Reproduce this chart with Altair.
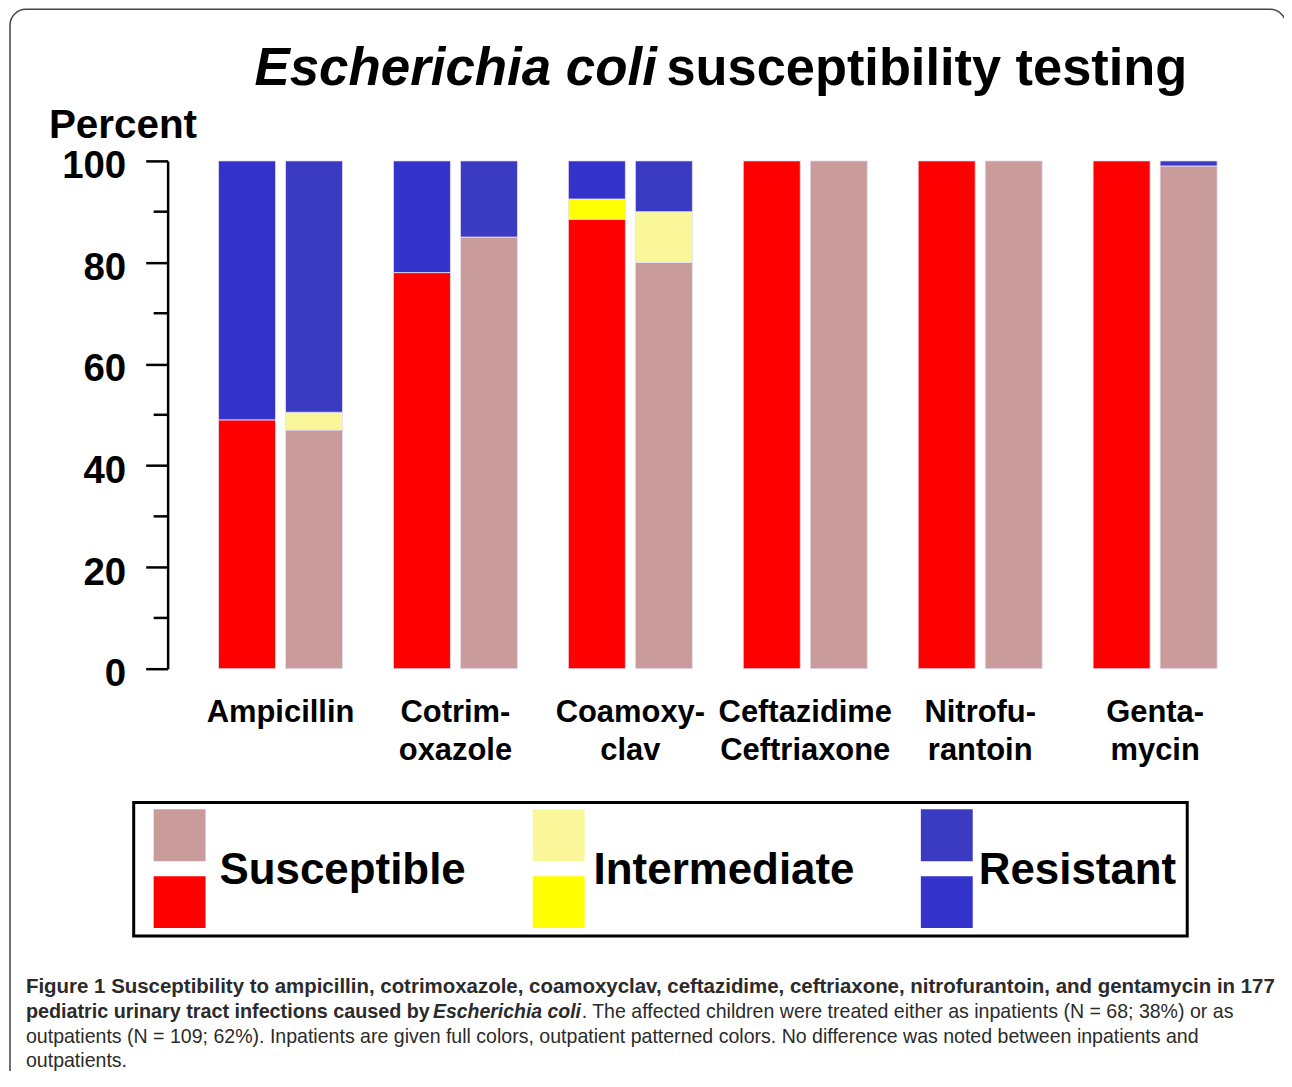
import altair as alt
import pandas as pd

# ---------------- data ----------------
drugs = ["Ampicillin", "Cotrim-|oxazole", "Coamoxy-|clav",
         "Ceftazidime|Ceftriaxone", "Nitrofu-|rantoin", "Genta-|mycin"]
groups = ["Inpatients", "Outpatients"]
categories = ["Susceptible", "Intermediate", "Resistant"]

in_susceptible = [49, 78, 88.5, 100, 100, 100]
in_intermediate = [0, 0, 4, 0, 0, 0]
in_resistant = [51, 22, 7.5, 0, 0, 0]
out_susceptible = [47, 85, 80, 100, 100, 99]
out_intermediate = [3.5, 0, 10, 0, 0, 0]
out_resistant = [49.5, 15, 10, 0, 0, 1]

y_ticks = [0, 20, 40, 60, 80, 100]
y_minor_ticks = [10, 30, 50, 70, 90]

title_italic = "Escherichia coli"
title_rest = "susceptibility testing"
y_title = "Percent"

caption_l1 = ("Figure 1 Susceptibility to ampicillin, cotrimoxazole, coamoxyclav, "
              "ceftazidime, ceftriaxone, nitrofurantoin, and gentamycin in 177")
caption_l2a = "pediatric urinary tract infections caused by"
caption_l2b = "Escherichia coli"
caption_l2c = (". The affected children were treated either as inpatients "
               "(N = 68; 38%) or as")
caption_l3 = ("outpatients (N = 109; 62%). Inpatients are given full colors, "
              "outpatient patterned colors. No difference was noted between inpatients and")
caption_l4 = "outpatients."

# ---------------- styles ----------------
col_in = {"Susceptible": "#FF0000", "Intermediate": "#FFFF00", "Resistant": "#3333CC"}
col_out = {"Susceptible": "#C99B9B", "Intermediate": "#FAF79A", "Resistant": "#3B3AC3"}
FONT = "Liberation Sans, Arial, sans-serif"
CAP_FONT = "Liberation Sans, Arial, sans-serif"

rows = []
series = {
    ("Inpatients", "Susceptible"): in_susceptible,
    ("Inpatients", "Intermediate"): in_intermediate,
    ("Inpatients", "Resistant"): in_resistant,
    ("Outpatients", "Susceptible"): out_susceptible,
    ("Outpatients", "Intermediate"): out_intermediate,
    ("Outpatients", "Resistant"): out_resistant,
}
for (g, c), vals in series.items():
    for d, v in zip(drugs, vals):
        if v > 0:
            rows.append({"drug": d, "group": g, "category": c,
                         "key": g + " " + c, "order": categories.index(c),
                         "value": v})
df = pd.DataFrame(rows)

keys = [g + " " + c for g in groups for c in categories]
key_colors = [col_in[c] for c in categories] + [col_out[c] for c in categories]
color_scale = alt.Scale(domain=keys, range=key_colors)
y_scale = alt.Scale(domain=[0, 100], nice=False, zero=True)

W, H = 1103, 509

y_axis = alt.Axis(title=None, values=y_ticks, grid=False,
                  tickSize=22, tickWidth=2.5, tickColor="black",
                  domainWidth=2.5, domainColor="black",
                  labelFont=FONT, labelFontWeight="bold", labelFontSize=38.5,
                  labelColor="black", labelPadding=20, labelOffset=5)

bars = alt.Chart(df).mark_bar(stroke="#E6E0F0", strokeWidth=0.8).encode(
    x=alt.X("drug:N", sort=drugs,
            scale=alt.Scale(paddingInner=0.291, paddingOuter=0.291),
            axis=alt.Axis(title=None, domain=False, ticks=False, labelAngle=0,
                          labelExpr="split(datum.label, '|')",
                          labelFont=FONT, labelFontWeight="bold", labelFontSize=31,
                          labelColor="black", labelPadding=29, labelLineHeight=38)),
    xOffset=alt.XOffset("group:N", sort=groups,
                        scale=alt.Scale(paddingInner=0.149, paddingOuter=0)),
    y=alt.Y("value:Q", stack="zero", scale=y_scale, axis=y_axis),
    color=alt.Color("key:N", scale=color_scale, legend=None),
    order=alt.Order("order:Q", sort="ascending"),
)

minor = alt.Chart(pd.DataFrame({"value": y_minor_ticks})).mark_rule(
    color="black", strokeWidth=2.5).encode(
    y=alt.Y("value:Q", scale=y_scale, axis=y_axis),
    x=alt.value(-14), x2=alt.value(0))

one = pd.DataFrame({"a": [0]})


def rect(x0, x1, y0, y1, **kw):
    return alt.Chart(one).mark_rect(**kw).encode(
        x=alt.value(x0), x2=alt.value(x1), y=alt.value(y0), y2=alt.value(y1))


def text(s, x, y, **kw):
    kw.setdefault("align", "left")
    kw.setdefault("baseline", "alphabetic")
    return alt.Chart(one).mark_text(**kw).encode(
        x=alt.value(x), y=alt.value(y), text=alt.value(s))


layers = []
# outer rounded frame
layers.append(rect(-158, 1121, -152, 930, fillOpacity=0, stroke="#444444",
                   strokeWidth=1.5, cornerRadius=16))
# legend box
layers.append(rect(-34, 1022, 643, 777, fill="white", stroke="black", strokeWidth=3))
# legend swatches
sw_x = {"Susceptible": -14, "Intermediate": 366, "Resistant": 755}
for c in categories:
    x0 = sw_x[c]
    layers.append(rect(x0, x0 + 52, 650, 702, fill=col_out[c]))
    layers.append(rect(x0, x0 + 52, 717, 769, fill=col_in[c]))
leg_txt = {"Susceptible": 52, "Intermediate": 427, "Resistant": 813}
for c in categories:
    layers.append(text(c, leg_txt[c], 725, font=FONT, fontWeight="bold",
                       fontSize=44, color="black"))

layers.append(bars)
layers.append(minor)

# title
layers.append(text(title_italic, 87, -76, font=FONT, fontWeight="bold",
                   fontStyle="italic", fontSize=53, color="black"))
layers.append(text(title_rest, 500, -76, font=FONT, fontWeight="bold",
                   fontSize=52.5, color="black"))
layers.append(text(y_title, -119, -23, font=FONT, fontWeight="bold",
                   fontSize=40.5, color="black"))

# caption
CAPC = "#2B2B2B"
layers.append(text(caption_l1, -142, 834, font=CAP_FONT, fontWeight="bold",
                   fontSize=20.5, color=CAPC))
layers.append(text(caption_l2a, -142, 859, font=CAP_FONT, fontWeight="bold",
                   fontSize=19.8, color=CAPC))
layers.append(text(caption_l2b, 266, 859, font=CAP_FONT, fontWeight="bold",
                   fontStyle="italic", fontSize=19.5, color=CAPC))
layers.append(text(caption_l2c, 415, 859, font=CAP_FONT, fontSize=19.6, color=CAPC))
layers.append(text(caption_l3, -142, 884, font=CAP_FONT, fontSize=19.6, color=CAPC))
layers.append(text(caption_l4, -142, 908, font=CAP_FONT, fontSize=19.6, color=CAPC))

chart = alt.layer(*layers).properties(
    width=W, height=H, background="white",
    autosize=alt.AutoSizeParams(type="none"),
    padding={"left": 160, "top": 152, "right": 16, "bottom": 402},
).configure_view(strokeWidth=0, stroke="transparent")

chart.save("out.html", embed_options={"renderer": "svg", "actions": False})
